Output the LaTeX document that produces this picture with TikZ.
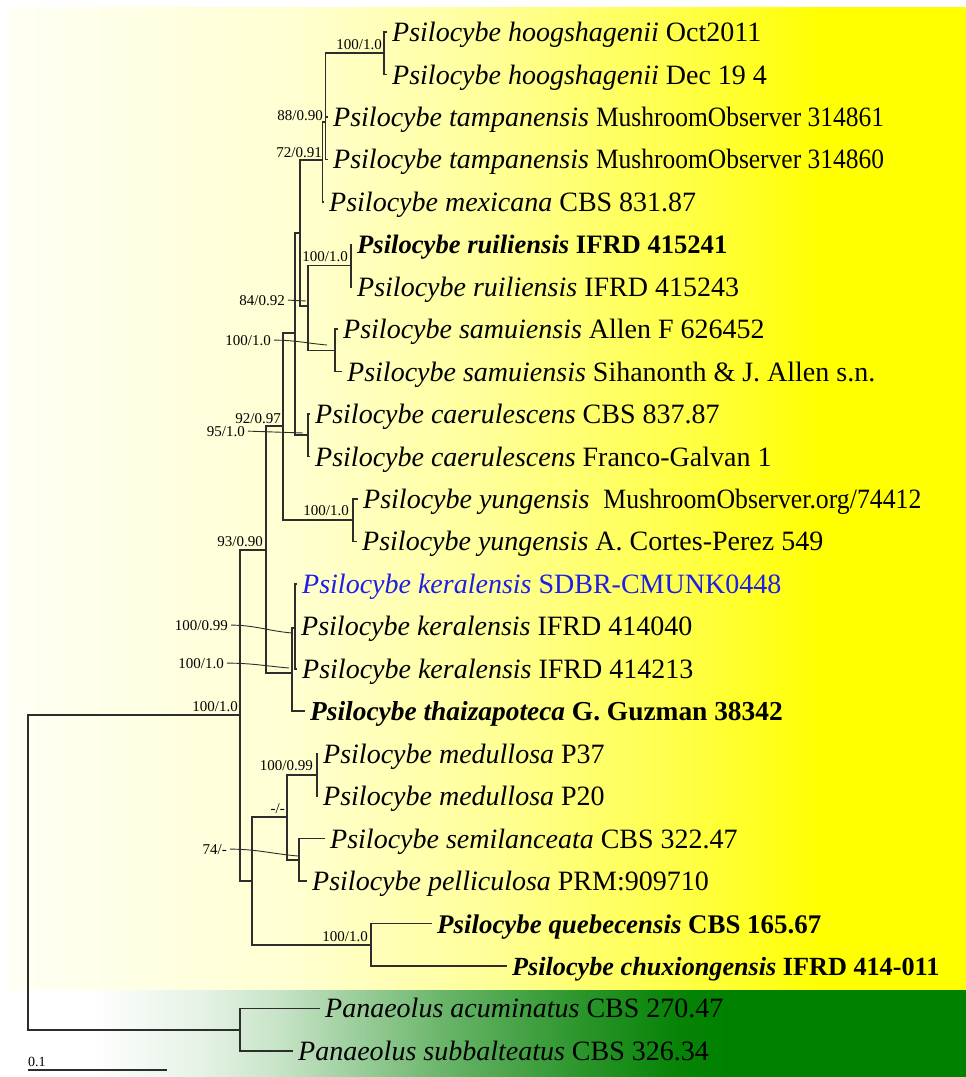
\documentclass[tikz,border=0pt]{standalone}
\usepackage{graphicx}
\usepackage{fontspec}
\setmainfont{Liberation Serif}
\definecolor{linegray}{RGB}{45,45,45}
\definecolor{keralablue}{RGB}{30,30,230}
\definecolor{dgreen}{RGB}{0,128,0}
\colorlet{yA}{yellow!4!white}
\colorlet{yB}{yellow!18!white}
\colorlet{yC}{yellow!40!white}
\colorlet{yD}{yellow!75!white}
\colorlet{gA}{dgreen!10!white}
\colorlet{gB}{dgreen!22!white}
\colorlet{gC}{dgreen!61!white}
\colorlet{gD}{dgreen!84!white}
\colorlet{gE}{dgreen!97!white}
% background bands (stops between 25bp and 75bp span the filled area)
\pgfdeclarehorizontalshading{psiloband}{100bp}{color(0bp)=(yA); color(25bp)=(yA); color(40bp)=(yB); color(50bp)=(yC); color(61bp)=(yD); color(67.5bp)=(yellow); color(100bp)=(yellow)}
\pgfdeclarehorizontalshading{panaeband}{100bp}{color(0bp)=(white); color(29.25bp)=(white); color(35bp)=(gA); color(39.15bp)=(gB); color(48.3bp)=(gC); color(55.15bp)=(gD); color(59.75bp)=(gE); color(62.5bp)=(dgreen); color(100bp)=(dgreen)}
\newcommand{\leafsize}[1]{\fontsize{#1}{30}\selectfont}
\newcommand{\narrow}[2]{\scalebox{#1}[1]{#2}}
\begin{document}
\begin{tikzpicture}[x=1pt,y=-1pt,
  br/.style={line width=1.6pt, draw=linegray},
  leader/.style={line width=0.9pt, draw=linegray},
  leaf/.style={anchor=west, inner xsep=5pt, inner ysep=0pt, text height=19pt, text depth=0pt, font=\leafsize{28}},
  boldleaf/.style={leaf, font=\leafsize{#1}\bfseries},
  lab/.style={anchor=base east, inner sep=0pt, font=\fontsize{15}{17}\selectfont},
]
\useasboundingbox (0,0) rectangle (966,1077);
\fill[white] (0,0) rectangle (966,1077);
\shade[shading=psiloband] (9,7) rectangle (966,990);
\shade[shading=panaeband] (9,990) rectangle (966,1077);

% internal nodes
\coordinate (root)   at (28,872);
\coordinate (nps)    at (240,715);
\coordinate (npan)   at (240,1030);
\coordinate (n93)    at (266,550);
\coordinate (n74)    at (252,881);
\coordinate (n92)    at (283,426);
\coordinate (nkout)  at (292,673);
\coordinate (nkin)   at (295,628);
\coordinate (n295)   at (295,333);
\coordinate (nyung)  at (353,520);
\coordinate (n300)   at (300,233);
\coordinate (n95)    at (308,435);
\coordinate (n72)    at (322.5,160);
\coordinate (n84)    at (308,306);
\coordinate (n88)    at (325.5,122);
\coordinate (nhoog)  at (384,53.25);
\coordinate (nruil)  at (351,265.5);
\coordinate (nsam)   at (335,350.4);
\coordinate (nmm)    at (287,817);
\coordinate (nmed)   at (317,775);
\coordinate (nsp)    at (299,860);
\coordinate (nqc)    at (371,945);

% leaves
\node[leaf] (l1)  at (387,32)     {\textit{Psilocybe hoogshagenii} Oct2011};
\node[leaf] (l2)  at (387,74.5)   {\textit{Psilocybe hoogshagenii} Dec 19 4};
\node[leaf] (l3)  at (328,116.9)  {\textit{Psilocybe tampanensis} \narrow{0.91}{MushroomObserver 314861}};
\node[leaf] (l4)  at (328,159.4)  {\textit{Psilocybe tampanensis} \narrow{0.91}{MushroomObserver 314860}};
\node[leaf] (l5)  at (324,201.8)  {\textit{Psilocybe mexicana} CBS 831.87};
\node[boldleaf=26.6] (l6)  at (352,244.3)  {\textit{Psilocybe ruiliensis} IFRD 415241};
\node[leaf] (l7)  at (352,286.7)  {\textit{Psilocybe ruiliensis} IFRD 415243};
\node[leaf] (l8)  at (338,329.2)  {\textit{Psilocybe samuiensis} Allen F 626452};
\node[leaf] (l9)  at (342,371.6)  {\textit{Psilocybe samuiensis} Sihanonth \& J. Allen s.n.};
\node[leaf] (l10) at (310,414.1)  {\textit{Psilocybe caerulescens} CBS 837.87};
\node[leaf] (l11) at (310,456.5)  {\textit{Psilocybe caerulescens} Franco-Galvan 1};
\node[leaf] (l12) at (358,499)    {\textit{Psilocybe yungensis}\ \ \narrow{0.92}{MushroomObserver.org/74412}};
\node[leaf] (l13) at (357,541.4)  {\textit{Psilocybe yungensis} A. Cortes-Perez 549};
\node[leaf,text=keralablue] (l14) at (297,583.9) {\textit{Psilocybe keralensis} SDBR-CMUNK0448};
\node[leaf] (l15) at (296,626.3)  {\textit{Psilocybe keralensis} IFRD 414040};
\node[leaf] (l16) at (297,668.8)  {\textit{Psilocybe keralensis} IFRD 414213};
\node[boldleaf=27.4] (l17) at (305,711.2)  {\textit{Psilocybe thaizapoteca} G. Guzman 38342};
\node[leaf] (l18) at (318,753.7)  {\textit{Psilocybe medullosa} P37};
\node[leaf] (l19) at (318,796.1)  {\textit{Psilocybe medullosa} P20};
\node[leaf] (l20) at (325,838.6)  {\textit{Psilocybe semilanceata} CBS 322.47};
\node[leaf] (l21) at (307,881)    {\textit{Psilocybe pelliculosa} PRM:909710};
\node[boldleaf=26.9] (l22) at (432,923.5)  {\textit{Psilocybe quebecensis} CBS 165.67};
\node[boldleaf=26.2] (l23) at (507,965.9)  {\textit{Psilocybe chuxiongensis} IFRD 414-011};
\node[leaf] (l24) at (320,1008.4) {\textit{Panaeolus acuminatus} CBS 270.47};
\node[leaf] (l25) at (293,1050.8) {\textit{Panaeolus subbalteatus} CBS 326.34};

% branches
\draw[br] (root) |- (nps);
\draw[br] (root) |- (npan);
\draw[br] (npan) |- (l24.west);
\draw[br] (npan) |- (l25.west);
\draw[br] (nps) |- (n93);
\draw[br] (nps) |- (n74);
\draw[br] (n93) |- (n92);
\draw[br] (n93) |- (nkout);
\draw[br] (nkout) |- (nkin);
\draw[br] (nkout) |- (l17.west);
\draw[br] (nkin) |- (l14.west);
\draw[br] (nkin) |- (l15.west);
\draw[br] (nkin) |- (l16.west);
\draw[br] (n92) |- (n295);
\draw[br] (n92) |- (nyung);
\draw[br] (nyung) |- (l12.west);
\draw[br] (nyung) |- (l13.west);
\draw[br] (n295) |- (n300);
\draw[br] (n295) |- (n95);
\draw[br] (n95) |- (l10.west);
\draw[br] (n95) |- (l11.west);
\draw[br] (n300) |- (n72);
\draw[br] (n300) |- (n84);
\draw[br] (n84) |- (nruil);
\draw[br] (n84) |- (nsam);
\draw[br] (nruil) |- (l6.west);
\draw[br] (nruil) |- (l7.west);
\draw[br] (nsam) |- (l8.west);
\draw[br] (nsam) |- (l9.west);
\draw[br] (n72) |- (n88);
\draw[br] (n72) |- (l5.west);
\draw[br] (n88) |- (nhoog);
\draw[br] (n88) |- (l3.west);
\draw[br] (n88) |- (l4.west);
\draw[br] (nhoog) |- (l1.west);
\draw[br] (nhoog) |- (l2.west);
\draw[br] (n74) |- (nmm);
\draw[br] (n74) |- (nqc);
\draw[br] (nmm) |- (nmed);
\draw[br] (nmm) |- (nsp);
\draw[br] (nmed) |- (l18.west);
\draw[br] (nmed) |- (l19.west);
\draw[br] (nsp) |- (l20.west);
\draw[br] (nsp) |- (l21.west);
\draw[br] (nqc) |- (l22.west);
\draw[br] (nqc) |- (l23.west);

% support values
\node[lab] (s1)  at (382,49)  {100/1.0};
\node[lab] (s2)  at (323,120) {88/0.90};
\node[lab] (s3)  at (322,157) {72/0.91};
\node[lab] (s4)  at (348,261) {100/1.0};
\node[lab] (s5)  at (285,305) {84/0.92};
\node[lab] (s6)  at (271,345) {100/1.0};
\node[lab] (s7)  at (281,423) {92/0.97};
\node[lab] (s8)  at (245,436) {95/1.0};
\node[lab] (s9)  at (349,515) {100/1.0};
\node[lab] (s10) at (263,546) {93/0.90};
\node[lab] (s11) at (228,630) {100/0.99};
\node[lab] (s12) at (224,668) {100/1.0};
\node[lab] (s13) at (238,711) {100/1.0};
\node[lab] (s14) at (313,770) {100/0.99};
\node[lab] (s15) at (285,813) {-/-};
\node[lab] (s16) at (227,854) {74/-};
\node[lab] (s17) at (368,941) {100/1.0};

% leader lines from labels to their clades
\coordinate (p5)  at (306,301);
\coordinate (p6)  at (327,345);
\coordinate (p8)  at (303,433);
\coordinate (p11) at (292,633);
\coordinate (p12) at (289,668);
\coordinate (p16) at (298,856);
\draw[leader] ([xshift=3pt]s5.east)  -- (p5);
\draw[leader] ([xshift=3pt]s6.east)  to[out=0,in=175] (p6);
\draw[leader] ([xshift=3pt]s8.east)  -- (p8);
\draw[leader] ([xshift=3pt]s11.east) to[out=0,in=175] (p11);
\draw[leader] ([xshift=3pt]s12.east) to[out=0,in=175] (p12);
\draw[leader] ([xshift=3pt]s16.east) to[out=0,in=175] (p16);

% scale bar
\node[anchor=base west, inner sep=0pt, font=\fontsize{14}{16}\selectfont] (sbl) at (28,1066) {0.1};
\coordinate (sb0) at (28,1070);
\coordinate (sb1) at (167,1070);
\draw[br] (sb0) -- (sb1);
\end{tikzpicture}
\end{document}
